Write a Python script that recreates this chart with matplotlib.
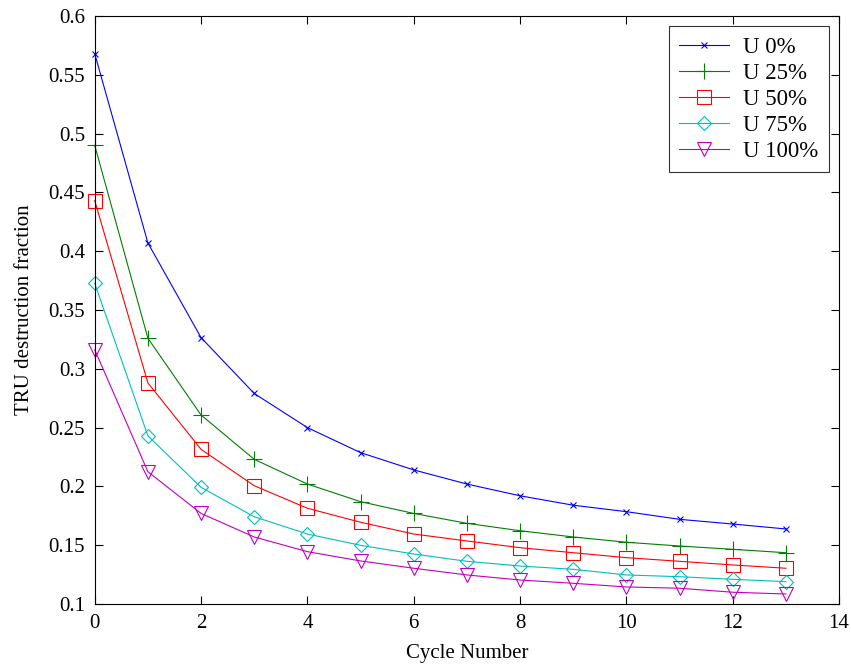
import matplotlib
matplotlib.use("Agg")
import matplotlib.pyplot as plt

cycles = list(range(14))
u0 = [0.568, 0.407, 0.3265, 0.279, 0.250, 0.2287, 0.214, 0.202, 0.192, 0.184, 0.1785, 0.172, 0.168, 0.1638]
u25 = [0.490, 0.326, 0.2607, 0.223, 0.202, 0.187, 0.177, 0.1686, 0.1623, 0.157, 0.1525, 0.1493, 0.1465, 0.1436]
u50 = [0.443, 0.288, 0.2315, 0.2006, 0.1814, 0.1695, 0.1595, 0.1536, 0.1479, 0.1436, 0.1394, 0.1363, 0.1332, 0.1304]
u75 = [0.3727, 0.243, 0.1992, 0.1742, 0.1595, 0.1499, 0.1425, 0.1363, 0.1323, 0.1295, 0.1247, 0.1232, 0.121, 0.119]
u100 = [0.3162, 0.2125, 0.177, 0.157, 0.1445, 0.1366, 0.1304, 0.1247, 0.1204, 0.1176, 0.1145, 0.1134, 0.110, 0.1085]
labels = ["U 0%", "U 25%", "U 50%", "U 75%", "U 100%"]
xticks = [0, 2, 4, 6, 8, 10, 12, 14]
yticks = [0.1, 0.15, 0.2, 0.25, 0.3, 0.35, 0.4, 0.45, 0.5, 0.55, 0.6]
yticklabels = ["0.1", "0.15", "0.2", "0.25", "0.3", "0.35", "0.4", "0.45", "0.5", "0.55", "0.6"]

plt.rcParams['font.family'] = ['Liberation Serif', 'DejaVu Serif']
fig = plt.figure(figsize=(8.51, 6.66), dpi=100)
ax = fig.add_axes([0.1113, 0.0931, 0.986 - 0.1113, 0.976 - 0.0931])

series = [u0, u25, u50, u75, u100]
colors = [(0, 0, 1), (0, 0.5, 0), (1, 0, 0), (0, 0.75, 0.75), (0.75, 0, 0.75)]
markers = ['x', '+', 's', 'D', 'v']
msizes = [5, 11, 10, 7.5, 10]
for ys, c, m, ms, lab in zip(series, colors, markers, msizes, labels):
    ax.plot(cycles, ys, color=c, marker=m, markersize=ms, markerfacecolor='none',
            markeredgecolor=c, markeredgewidth=0.8, linewidth=0.8, label=lab,
            clip_on=False)

ax.set_xlim(0, 14)
ax.set_ylim(0.1, 0.6)
ax.set_xticks(xticks)
ax.set_yticks(yticks)
ax.set_yticklabels(yticklabels)
ax.tick_params(direction='in', top=True, right=True, labelsize=15, length=6, width=0.8)
ax.tick_params(axis='x', pad=7)
ax.tick_params(axis='y', pad=7)
for s in ax.spines.values():
    s.set_linewidth(0.8)
ax.set_xlabel("Cycle Number", fontsize=15, labelpad=8)
ax.set_ylabel("TRU destruction fraction", fontsize=15, labelpad=10)

leg = ax.legend(loc='upper right', fontsize=16.5, frameon=True, fancybox=False,
                edgecolor='black', borderaxespad=0.45, handlelength=2.2,
                handletextpad=0.6, labelspacing=0.22, borderpad=0.45)
leg.get_frame().set_linewidth(0.8)

fig.savefig("out.png", dpi=100)
